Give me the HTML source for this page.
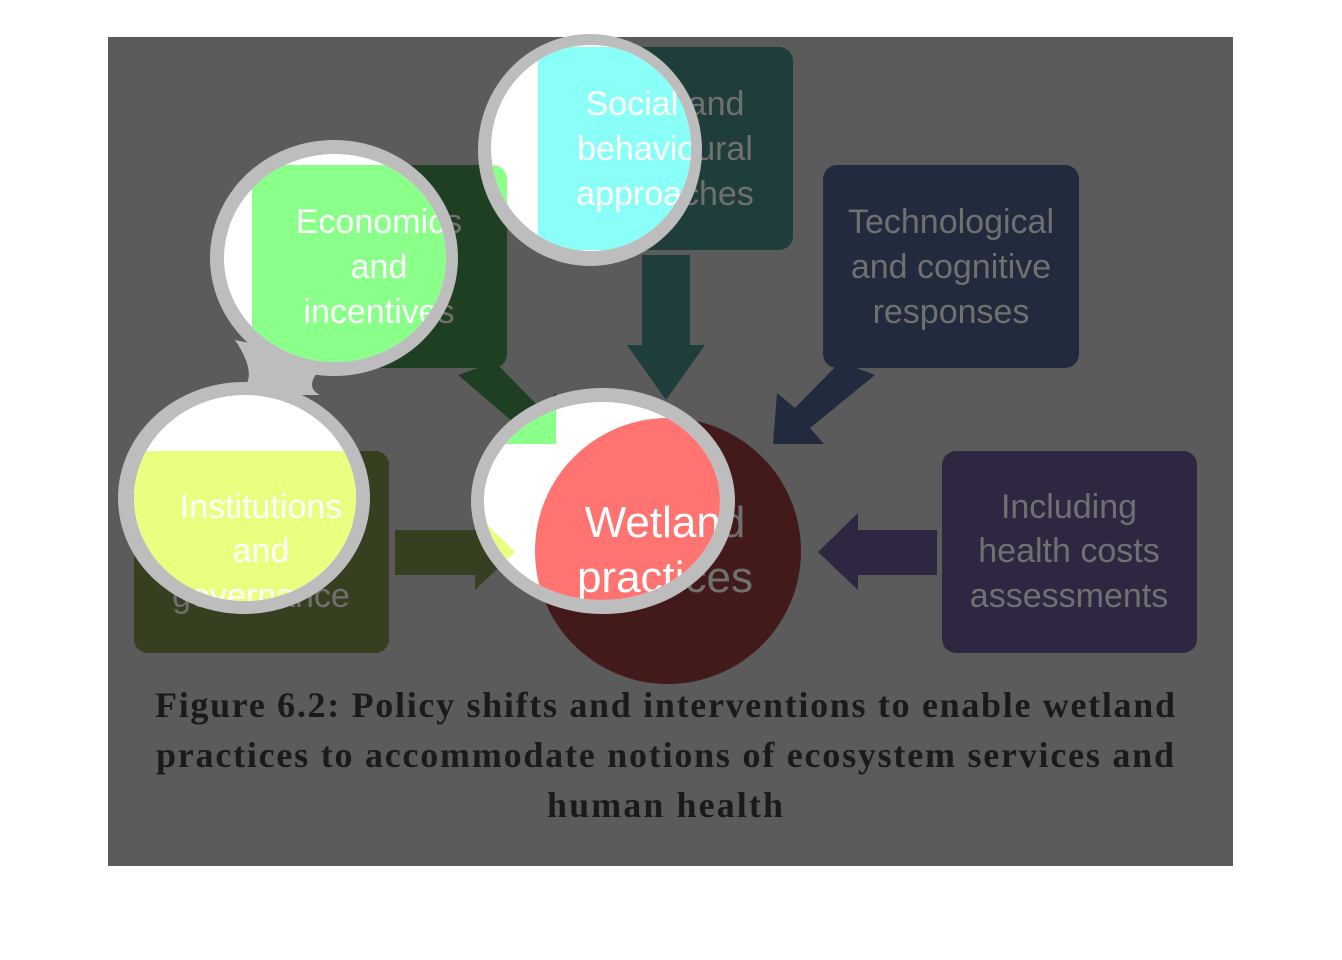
<!DOCTYPE html>
<html><head><style>
html,body{margin:0;padding:0;background:#fff;}
svg{display:block;}
text{font-family:"Liberation Sans",sans-serif;}
</style></head><body>
<svg width="1342" height="960" viewBox="0 0 1342 960" xmlns="http://www.w3.org/2000/svg">
<defs>
<clipPath id="blobs">
<ellipse cx="591" cy="148" rx="100" ry="103"/>
<ellipse cx="335" cy="258" rx="111" ry="104"/>
<ellipse cx="245" cy="498" rx="111" ry="103"/>
<ellipse cx="602" cy="501" rx="118" ry="99"/>
</clipPath>
</defs>
<rect x="108" y="37" width="1125" height="829" fill="#5b5b5b"/>
<g>
<rect x="538" y="47" width="255" height="203" rx="14" fill="#1f3d3b"/>
<rect x="252" y="165" width="255" height="203" rx="14" fill="#1f3f22"/>
<rect x="823" y="165" width="256" height="203" rx="14" fill="#222a3e"/>
<rect x="134" y="451" width="255" height="202" rx="14" fill="#363f20"/>
<rect x="942" y="451" width="255" height="202" rx="14" fill="#2f2641"/>
<polygon points="642,255 690,255 690,345 705,345 666,400 627,345 642,345" fill="#1f3d3b"/>
<polygon points="458,375 495,362 540,408 556,393 556,444 505,444 520,428" fill="#1f3f22"/>
<polygon points="875,375 840,362 795,408 777,393 773,444 824,444 810,428" fill="#222a3e"/>
<polygon points="395,530 475,530 475,513 515,552 475,590 475,575 395,575" fill="#363f20"/>
<polygon points="937,530 858,530 858,513 818,552 858,590 858,575 937,575" fill="#2f2641"/>
<circle cx="668" cy="551" r="133" fill="#431a1a"/>
<g fill="#707070" font-size="34" text-anchor="middle">
<text x="665" y="115">Social and</text><text x="665" y="160">behavioural</text><text x="665" y="205">approaches</text>
<text x="379" y="233">Economics</text><text x="379" y="278">and</text><text x="379" y="323">incentives</text>
<text x="951" y="233">Technological</text><text x="951" y="278">and cognitive</text><text x="951" y="323">responses</text>
<text x="261" y="518">Institutions</text><text x="261" y="562">and</text><text x="261" y="607">governance</text>
<text x="1069" y="518">Including</text><text x="1069" y="562">health costs</text><text x="1069" y="607">assessments</text>
<text x="665" y="537" font-size="44">Wetland</text><text x="665" y="592" font-size="44">practices</text>
</g>
</g>
<g fill="#bdbdbd">
<ellipse cx="590" cy="150" rx="112" ry="116"/>
<ellipse cx="334" cy="258" rx="124" ry="118"/>
<ellipse cx="244" cy="498" rx="126" ry="116"/>
<ellipse cx="603" cy="501" rx="132" ry="113"/>
<path d="M235 340 Q265 385 230 395 L320 395 Q300 385 330 360 Z"/>
</g>
<g fill="#ffffff">
<ellipse cx="591" cy="148" rx="100" ry="103"/>
<ellipse cx="335" cy="258" rx="111" ry="104"/>
<ellipse cx="245" cy="498" rx="111" ry="103"/>
<ellipse cx="602" cy="501" rx="118" ry="99"/>
</g>
<g clip-path="url(#blobs)">
<rect x="538" y="47" width="255" height="203" rx="14" fill="#8afff8"/>
<rect x="252" y="165" width="255" height="203" rx="14" fill="#8aff8a"/>
<rect x="134" y="451" width="255" height="202" rx="14" fill="#e8ff80"/>
<polygon points="458,375 495,362 540,408 556,393 556,444 505,444 520,428" fill="#8aff8a"/>
<polygon points="395,530 475,530 475,513 515,552 475,590 475,575 395,575" fill="#e8ff80"/>
<circle cx="668" cy="551" r="133" fill="#ff7470"/>
<g fill="#ffffff" font-size="34" text-anchor="middle">
<text x="665" y="115">Social and</text><text x="665" y="160">behavioural</text><text x="665" y="205">approaches</text>
<text x="379" y="233">Economics</text><text x="379" y="278">and</text><text x="379" y="323">incentives</text>
<text x="261" y="518">Institutions</text><text x="261" y="562">and</text><text x="261" y="607">governance</text>
<text x="665" y="537" font-size="44">Wetland</text><text x="665" y="592" font-size="44">practices</text>
</g>
</g>
<g fill="#1a1a1a" font-size="36" font-weight="bold" text-anchor="middle">
<text x="665" y="717" textLength="1020" lengthAdjust="spacing" style="font-family:'Liberation Serif',serif">Figure 6.2: Policy shifts and interventions to enable wetland</text>
<text x="665" y="767" textLength="1018" lengthAdjust="spacing" style="font-family:'Liberation Serif',serif">practices to accommodate notions of ecosystem services and</text>
<text x="665" y="817" textLength="236" lengthAdjust="spacing" style="font-family:'Liberation Serif',serif">human health</text>
</g>
</svg>
</body></html>
